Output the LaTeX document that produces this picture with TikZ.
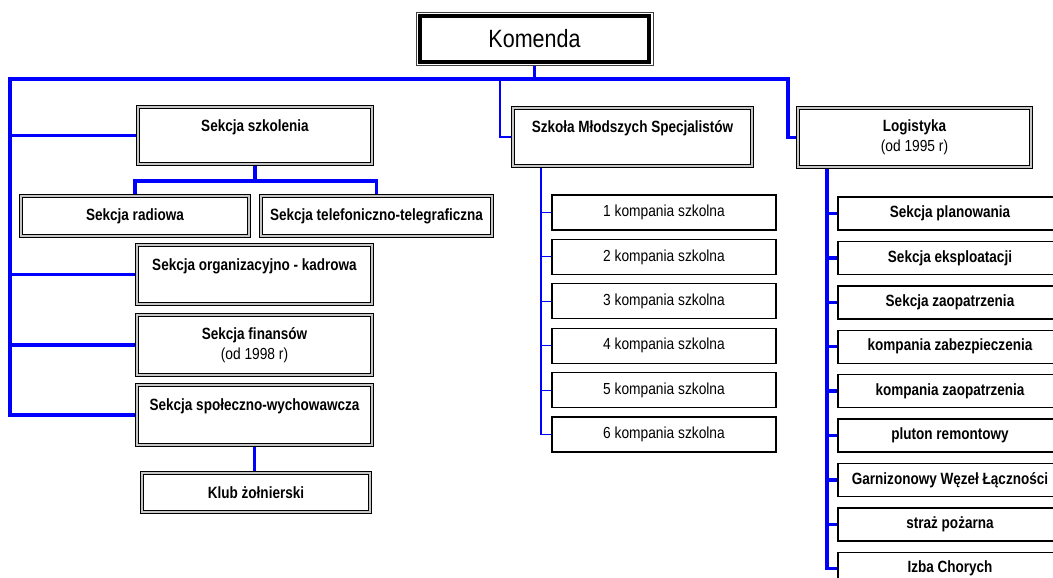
\documentclass[tikz,border=0pt]{standalone}
\usepackage{fontspec}
\setmainfont{Liberation Sans}[FakeStretch=0.86, BoldFeatures={FakeStretch=0.83}]
\usepackage{tikz}
\usetikzlibrary{positioning}
\definecolor{orgblue}{RGB}{0,0,255}
\pgfdeclarelayer{background}
\pgfsetlayers{background,main}
\tikzstyle{head} = [rectangle, draw=black, line width=4pt, fill=white, preaction={draw=black!75, line width=9pt}, preaction={draw=white, line width=7pt}, font=\fontsize{25}{30}\selectfont, inner sep=0pt, outer sep=0pt]
\tikzstyle{unit} = [rectangle, draw=black, double=gray!45, double distance=1.2pt, line width=1pt, fill=white, align=center, font=\fontsize{16.3}{20}\selectfont\bfseries, inner sep=0pt, outer sep=0pt]
\tikzstyle{company} = [rectangle, minimum width=224pt, minimum height=35pt, draw=black, line width=1.3pt, fill=white, font=\fontsize{16}{20}\selectfont, inner sep=0pt, outer sep=0pt]
\tikzstyle{service} = [rectangle, minimum width=224pt, minimum height=33pt, draw=black, line width=1.4pt, fill=white, font=\fontsize{16.3}{20}\selectfont\bfseries, inner sep=0pt, outer sep=0pt]
\tikzstyle{bus} = [line width=3.3pt, line cap=rect, color=orgblue]
\tikzstyle{link} = [line width=1.1pt, color=orgblue]

\begin{document}
\begin{tikzpicture}[x=1pt, y=-1pt, node distance=44.4pt]
\path[use as bounding box, clip] (0,0) rectangle (1053,578);

% Komenda
\node (kom) [head, minimum width=229pt, minimum height=45.5pt] at (534.5,39) {Komenda};

% Left branch
\node (szkol) [unit, minimum width=234pt, minimum height=57pt] at (255,135.5) {Sekcja szkolenia\\\mbox{}};
\node (radio) [unit, minimum width=228pt, minimum height=40pt] at (135,216) {Sekcja radiowa};
\node (tel) [unit, minimum width=231pt, minimum height=40pt] at (376.5,216) {Sekcja telefoniczno-telegraficzna};
\node (org) [unit, minimum width=235pt, minimum height=59pt] at (254.5,274.5) {Sekcja organizacyjno - kadrowa\\\mbox{}};
\node (fin) [unit, minimum width=235pt, minimum height=60pt] at (254.5,345) {Sekcja finansów\\{\mdseries\fontsize{16}{20}\selectfont (od 1998 r)}};
\node (spol) [unit, minimum width=235pt, minimum height=60pt] at (254.5,415) {Sekcja społeczno-wychowawcza\\\mbox{}};
\node (klub) [unit, minimum width=228pt, minimum height=39pt] at (256,492.5) {Klub żołnierski};

% School
\node (sms) [unit, minimum width=239pt, minimum height=58pt] at (632.5,137) {Szkoła Młodszych Specjalistów\\\mbox{}};
\node (k1) [company] at (664,212.5) {1 kompania szkolna};
\node (k2) [company, below of=k1] {2 kompania szkolna};
\node (k3) [company, below of=k2] {3 kompania szkolna};
\node (k4) [company, below of=k3] {4 kompania szkolna};
\node (k5) [company, below of=k4] {5 kompania szkolna};
\node (k6) [company, below of=k5] {6 kompania szkolna};

% Logistics
\node (log) [unit, minimum width=233pt, minimum height=59pt] at (914.5,137.5) {Logistyka\\{\mdseries\fontsize{16}{20}\selectfont (od 1995 r)}};
\node (r1) [service] at (950,213.5) {Sekcja planowania};
\node (r2) [service, below of=r1] {Sekcja eksploatacji};
\node (r3) [service, below of=r2] {Sekcja zaopatrzenia};
\node (r4) [service, below of=r3] {kompania zabezpieczenia};
\node (r5) [service, below of=r4] {kompania zaopatrzenia};
\node (r6) [service, below of=r5] {pluton remontowy};
\node (r7) [service, below of=r6] {Garnizonowy Węzeł Łączności};
\node (r8) [service, below of=r7] {straż pożarna};
\node (r9) [service, below of=r8] {Izba Chorych};

% Connectors
\begin{pgfonlayer}{background}
\coordinate (busL) at (10,79);
\coordinate (busM) at (500,79);
\coordinate (busR) at (788,79);
\draw[bus] (kom.south) -- (kom.south |- busL);
\draw[bus] (busL) -- (busR);
\draw[bus] (busL) |- (spol.west);
\draw[bus] (szkol.west) -- (szkol.west -| busL);
\draw[bus] (org.west) -- (org.west -| busL);
\draw[bus] (fin.west) -- (fin.west -| busL);
\draw[bus] (busR) |- (log.west);
\draw[link] (busM) |- (sms.west);
\draw[bus] (szkol.south) -- ++(0,17) -| (radio.north);
\draw[bus] (szkol.south) ++(0,17) -| (tel.north);
\draw[bus] (spol.south) -- (spol.south |- klub.north);
\coordinate (smsStem) at ([xshift=28pt]sms.south west);
\draw[link] (smsStem) |- (k6.west);
\foreach \i in {1,...,5} \draw[link] (k\i.west -| smsStem) -- (k\i.west);
\coordinate (logStem) at ([xshift=29pt]log.south west);
\draw[bus] (logStem) |- (r9.west);
\foreach \i in {1,...,8} \draw[bus] (r\i.west -| logStem) -- (r\i.west);
\end{pgfonlayer}
\end{tikzpicture}
\end{document}
